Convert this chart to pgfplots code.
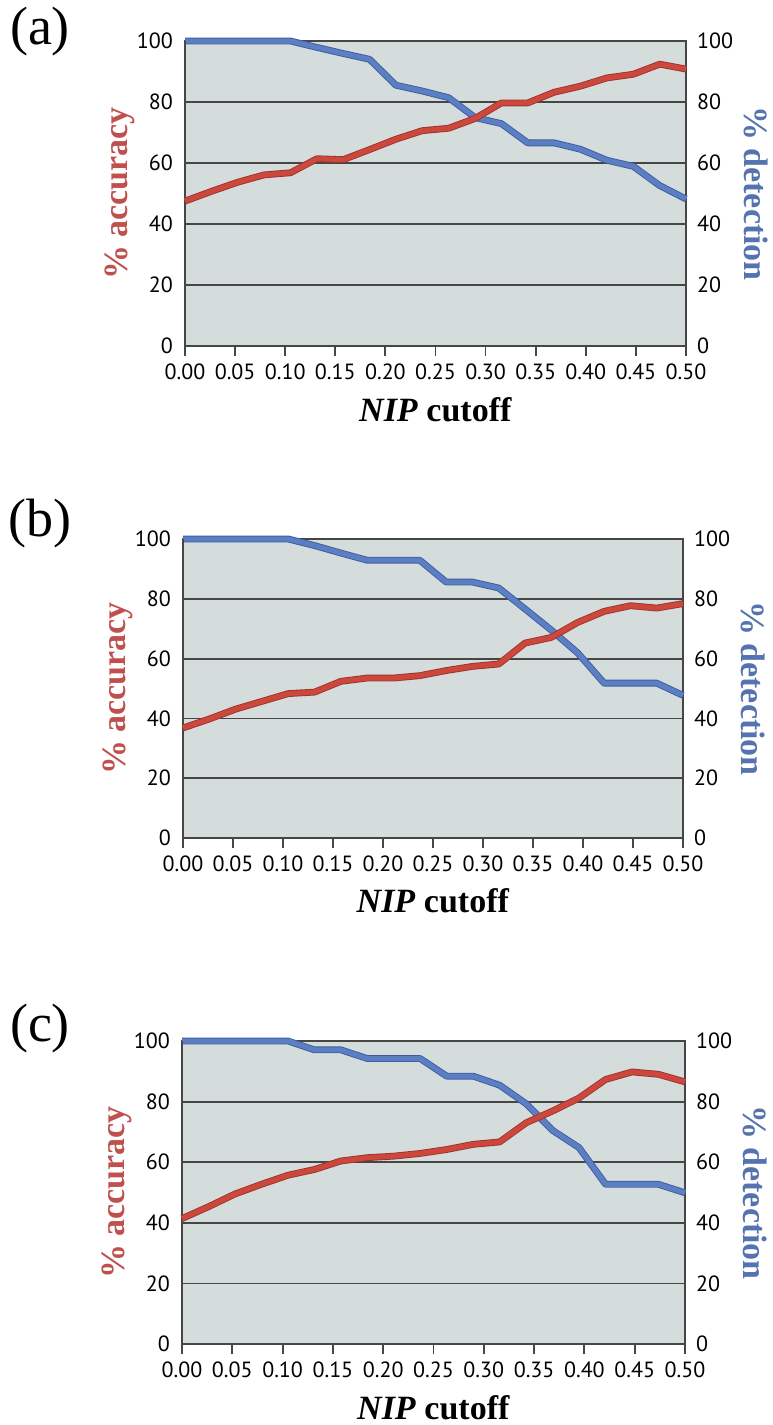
\documentclass[border=0pt]{standalone}
\usepackage{fontspec}
\setmainfont{Liberation Serif}
\newfontfamily\tickfont{PT Sans}
\usepackage{pgfplots}
\usepackage{pgfplotstable}
\pgfplotsset{compat=1.18}
\definecolor{bgc}{RGB}{212,221,220}
\definecolor{gridc}{RGB}{70,70,70}
\definecolor{redF}{RGB}{205,72,60}
\definecolor{redD}{RGB}{160,50,45}
\definecolor{bluF}{RGB}{92,127,196}
\definecolor{bluD}{RGB}{62,92,160}
\definecolor{redT}{RGB}{192,80,77}
\definecolor{bluT}{RGB}{85,115,175}

\pgfplotstableread{
x acc det
0.0000 47.5 100
0.0263 50.7 100
0.0526 53.7 100
0.0789 56.1 100
0.1053 56.8 100
0.1316 61.4 97.9
0.1579 61.1 95.9
0.1842 64.4 94.0
0.2105 67.8 85.5
0.2368 70.6 83.6
0.2632 71.4 81.4
0.2895 74.6 74.9
0.3158 79.7 72.9
0.3421 79.7 66.6
0.3684 83.2 66.6
0.3947 85.2 64.5
0.4211 87.9 60.9
0.4474 89.1 58.9
0.4737 92.4 52.6
0.5000 90.8 48.2
}\dataA

\pgfplotstableread{
x acc det
0.0000 36.8 100
0.0263 39.8 100
0.0526 43.1 100
0.0789 45.7 100
0.1053 48.3 100
0.1316 48.8 97.8
0.1579 52.4 95.3
0.1842 53.5 92.9
0.2105 53.5 92.9
0.2368 54.3 92.9
0.2632 56.0 85.6
0.2895 57.4 85.6
0.3158 58.2 83.6
0.3421 65.2 76.6
0.3684 67.1 69.5
0.3947 72.1 61.9
0.4211 75.8 51.8
0.4474 77.7 51.8
0.4737 76.9 51.8
0.5000 78.4 47.7
}\dataB

\pgfplotstableread{
x acc det
0.0000 41.4 100
0.0263 45.3 100
0.0526 49.5 100
0.0789 52.7 100
0.1053 55.7 100
0.1316 57.6 97.1
0.1579 60.4 97.1
0.1842 61.5 94.2
0.2105 62.0 94.2
0.2368 62.9 94.2
0.2632 64.2 88.4
0.2895 65.9 88.4
0.3158 66.7 85.4
0.3421 73.0 79.3
0.3684 76.9 70.5
0.3947 81.2 64.8
0.4211 87.3 52.7
0.4474 89.8 52.7
0.4737 89.0 52.7
0.5000 86.5 49.9
}\dataC

\pgfplotsset{
  common/.style={
    scale only axis, anchor=south west, clip=false,
    xmin=0, xmax=0.5, ymin=0, ymax=100,
    ytick={0,20,...,100},
    /pgf/number format/assume math mode=true,
    tick label style={font=\tickfont\fontsize{11}{11}\selectfont, text=black},
    ytick style={draw=none},
  },
  detax/.style={common,
    axis background/.style={fill=bgc},
    axis line style={draw=gridc, line width=0.9pt},
    ymajorgrids, grid style={draw=gridc, line width=0.9pt},
    xtick={0,0.05,...,0.51},
    xtick pos=bottom, xtick align=outside, major tick length=5pt,
    xtick style={draw=gridc, line width=0.9pt},
    xticklabel style={/pgf/number format/.cd, fixed, fixed zerofill, precision=2},
    xticklabel shift=0.5pt,
    yticklabel pos=right,
    yticklabel style={xshift=2pt},
    xlabel={\textbf{\textit{NIP} cutoff}},
    xlabel style={font=\fontsize{17}{17}\selectfont, at={(axis description cs:0.5,-0.21)}, anchor=center},
    ylabel={\textbf{\% detection}},
    ylabel style={font=\fontsize{17}{17}\selectfont, text=bluT, at={(axis description cs:1.14,0.5)}, anchor=center, rotate=180},
  },
  accax/.style={common,
    axis x line=none, axis y line*=left,
    axis line style={draw=gridc, line width=0.9pt},
    yticklabel style={xshift=-2.5pt},
    ylabel={\textbf{\% accuracy}},
    ylabel style={font=\fontsize{17}{17}\selectfont, text=redT, at={(axis description cs:-0.13,0.5)}, anchor=center},
  },
}

\begin{document}
\begin{tikzpicture}
\path[use as bounding box] (0,0) rectangle (386pt,-712.5pt);

% panel (a)
\node[font=\fontsize{27}{27}\selectfont] at (20pt,-16pt) {(a)};
\begin{axis}[detax, at={(92.5pt,-173pt)}, width=250.5pt, height=152.5pt]
\addplot[draw=bluD, line width=3.4pt, line join=round] table[x=x,y=det]{\dataA};
\addplot[draw=bluF, line width=2.5pt, line join=round] table[x=x,y=det]{\dataA};
\end{axis}
\begin{axis}[accax, at={(92.5pt,-173pt)}, width=250.5pt, height=152.5pt]
\addplot[draw=redD, line width=3.4pt, line join=round] table[x=x,y=acc]{\dataA};
\addplot[draw=redF, line width=2.5pt, line join=round] table[x=x,y=acc]{\dataA};
\end{axis}

% panel (b)
\node[font=\fontsize{27}{27}\selectfont] at (20pt,-262pt) {(b)};
\begin{axis}[detax, at={(91.5pt,-419pt)}, width=250pt, height=149.5pt]
\addplot[draw=bluD, line width=3.4pt, line join=round] table[x=x,y=det]{\dataB};
\addplot[draw=bluF, line width=2.5pt, line join=round] table[x=x,y=det]{\dataB};
\end{axis}
\begin{axis}[accax, at={(91.5pt,-419pt)}, width=250pt, height=149.5pt]
\addplot[draw=redD, line width=3.4pt, line join=round] table[x=x,y=acc]{\dataB};
\addplot[draw=redF, line width=2.5pt, line join=round] table[x=x,y=acc]{\dataB};
\end{axis}

% panel (c)
\node[font=\fontsize{27}{27}\selectfont] at (20pt,-514pt) {(c)};
\begin{axis}[detax, at={(91pt,-672pt)}, width=251.5pt, height=151.5pt]
\addplot[draw=bluD, line width=3.4pt, line join=round] table[x=x,y=det]{\dataC};
\addplot[draw=bluF, line width=2.5pt, line join=round] table[x=x,y=det]{\dataC};
\end{axis}
\begin{axis}[accax, at={(91pt,-672pt)}, width=251.5pt, height=151.5pt]
\addplot[draw=redD, line width=3.4pt, line join=round] table[x=x,y=acc]{\dataC};
\addplot[draw=redF, line width=2.5pt, line join=round] table[x=x,y=acc]{\dataC};
\end{axis}
\end{tikzpicture}
\end{document}
